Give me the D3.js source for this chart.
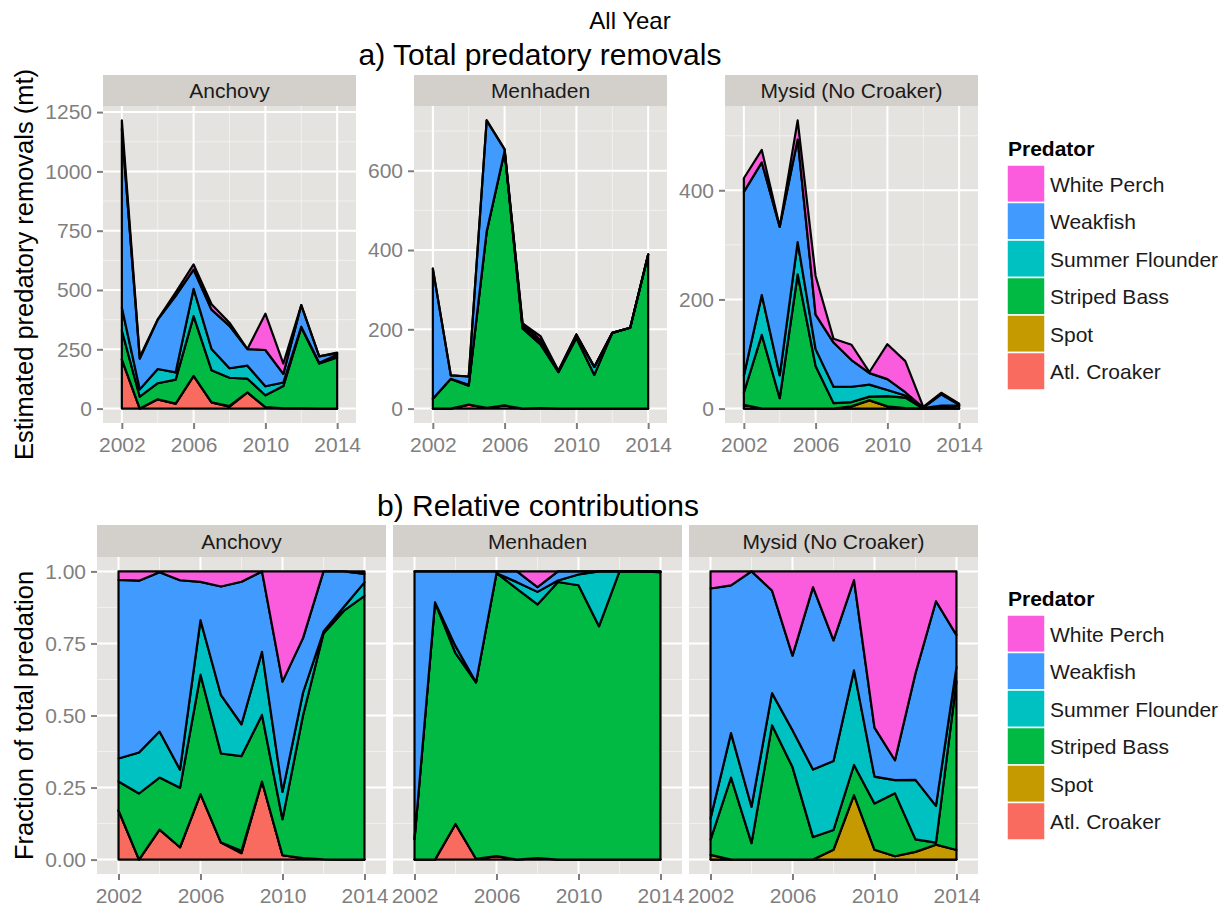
<!DOCTYPE html>
<html>
<head>
<meta charset="utf-8">
<script src="https://cdn.jsdelivr.net/npm/d3@7"></script>
<style>
  body { margin: 0; background: #fff; }
  text { font-family: "Liberation Sans", Arial, sans-serif; }
</style>
</head>
<body>
<svg id="chart" width="1232" height="909"></svg>
<script>
// ---- data (estimated removals, mt) ----
const years = [2002, 2003, 2004, 2005, 2006, 2007, 2008, 2009, 2010, 2011, 2012, 2013, 2014];
const predators = ["Atl. Croaker", "Spot", "Striped Bass", "Summer Flounder", "Weakfish", "White Perch"];
const predatorColors = ["#FA6B5F", "#C49A00", "#00BA43", "#00C1C1", "#419BFF", "#FB5BDD"];
const preyNames = ["Anchovy", "Menhaden", "Mysid (No Croaker)"];

const anchovyCroaker        = [207, 0, 39, 21, 138, 26, 8, 68, 6, 1, 0.5, 0, 0];
const anchovySpot           = [0, 0, 0, 0, 0, 0, 3, 0, 0, 0, 0, 0, 0];
const anchovyStripedBass    = [122, 50, 68, 101, 252, 136, 119, 58, 50, 94, 342, 190, 216];
const anchovySummerFlounder = [97, 31, 60, 31, 115, 89, 40, 55, 38, 15, 3, 3, 11];
const anchovyWeakfish       = [753, 130, 208, 322, 81, 166, 179, 70, 153, 36, 91, 27, 7];
const anchovyWhitePerch     = [36, 7, 1, 15, 22, 23, 13, 0, 153, 44, 0, 0, 2];

const menhadenCroaker        = [0, 0, 10, 2, 8, 0, 1, 0, 0, 0, 0, 0, 0];
const menhadenSpot           = [0, 0, 0, 0, 0, 0, 0, 0, 0, 0, 0, 0, 0];
const menhadenStripedBass    = [25, 75, 48, 445, 642, 202, 161, 92, 178, 85, 191, 204, 388];
const menhadenSummerFlounder = [0, 0, 2, 0, 0, 5, 8, 0.5, 7, 20, 0, 0, 0];
const menhadenWeakfish       = [328, 9, 21, 280, 4, 8, 3, 3, 2, 0, 0, 0, 1];
const menhadenWhitePerch     = [0, 0, 0, 0, 0, 0, 10, 0, 0, 0, 0, 0, 0];

const mysidCroaker        = [0, 0, 0, 0, 0, 0, 0, 0, 0, 0, 0, 0, 0];
const mysidSpot           = [7, 0, 0, 0, 0, 0, 4, 15, 4, 1, 0.08, 1.5, 0.3];
const mysidStripedBass    = [22, 135, 19, 246, 78, 10, 8, 7, 19, 19, 0.13, 0.2, 5.3];
const mysidSummerFlounder = [31, 73, 42, 59, 31, 30, 28, 22, 11, 4, 0.62, 3.7, 0.45];
const mysidWeakfish       = [337, 243, 272, 188, 63, 81, 49, 21, 20, 6, 1.11, 20.6, 1];
const mysidWhitePerch     = [25, 23, 0, 35, 71, 7, 28, 2, 64, 57, 1.06, 3, 2];

const xTicks = [2002, 2006, 2010, 2014];
const yTicksTop = [[0, 250, 500, 750, 1000, 1250], [0, 200, 400, 600], [0, 200, 400]];
const yTicksBottom = [0, 0.25, 0.5, 0.75, 1];

// ---- layout / style ----
const FONT = "'Liberation Sans', Arial, sans-serif";
const panelFill = "#E5E3E0";
const stripFill = "#D3CFCB";
const minorGrid = "#F2F1EF";
const xPad = 1.05;

const preyLayers = [
  [anchovyCroaker, anchovySpot, anchovyStripedBass, anchovySummerFlounder, anchovyWeakfish, anchovyWhitePerch],
  [menhadenCroaker, menhadenSpot, menhadenStripedBass, menhadenSummerFlounder, menhadenWeakfish, menhadenWhitePerch],
  [mysidCroaker, mysidSpot, mysidStripedBass, mysidSummerFlounder, mysidWeakfish, mysidWhitePerch]
];

const svg = d3.select("#chart");
svg.append("rect").attr("width", 1232).attr("height", 909).attr("fill", "#fff");

function rowsFor(layers) {
  return years.map((yr, i) => {
    const row = {year: yr};
    predators.forEach((p, k) => { row[p] = layers[k][i]; });
    return row;
  });
}

function minorTicks(major, domain) {
  const step = major[1] - major[0];
  const out = [];
  for (let v = major[0] - step / 2; v <= domain[1]; v += step) {
    if (v >= domain[0]) out.push(v);
  }
  return out;
}

function drawPanel(cfg) {
  const pw = cfg.width, ph = cfg.height, sh = cfg.stripH;
  const g = svg.append("g").attr("transform", "translate(" + cfg.left + "," + cfg.top + ")");

  g.append("rect").attr("width", pw).attr("height", sh).attr("fill", stripFill);
  g.append("text")
    .attr("x", pw / 2).attr("y", sh / 2 + 7.5)
    .attr("text-anchor", "middle")
    .attr("font-size", 21).attr("fill", "#1a1a1a")
    .text(cfg.label);

  const x = d3.scaleLinear()
    .domain([years[0] - xPad, years[years.length - 1] + xPad])
    .range([0, pw]);
  const y = d3.scaleLinear().domain(cfg.yDomain).range([sh + ph, sh]);

  g.append("rect").attr("y", sh).attr("width", pw).attr("height", ph).attr("fill", panelFill);

  const grid = g.append("g");
  minorTicks(xTicks, x.domain()).forEach(v => {
    grid.append("line").attr("x1", x(v)).attr("x2", x(v)).attr("y1", sh).attr("y2", sh + ph)
      .attr("stroke", minorGrid).attr("stroke-width", 1);
  });
  minorTicks(cfg.yTicks, cfg.yDomain).forEach(v => {
    grid.append("line").attr("x1", 0).attr("x2", pw).attr("y1", y(v)).attr("y2", y(v))
      .attr("stroke", minorGrid).attr("stroke-width", 1);
  });
  xTicks.forEach(v => {
    grid.append("line").attr("x1", x(v)).attr("x2", x(v)).attr("y1", sh).attr("y2", sh + ph)
      .attr("stroke", "#fff").attr("stroke-width", 2);
  });
  cfg.yTicks.forEach(v => {
    grid.append("line").attr("x1", 0).attr("x2", pw).attr("y1", y(v)).attr("y2", y(v))
      .attr("stroke", "#fff").attr("stroke-width", 2);
  });

  const series = d3.stack().keys(predators).offset(cfg.offset)(cfg.rows);
  const area = d3.area()
    .x(d => x(d.data.year))
    .y0(d => y(d[0]))
    .y1(d => y(d[1]));

  g.append("g").selectAll("path")
    .data(series)
    .join("path")
    .attr("d", area)
    .attr("fill", (d, i) => predatorColors[i])
    .attr("stroke", "#000")
    .attr("stroke-width", 2.2)
    .attr("stroke-linejoin", "round");

  const axes = [];
  if (cfg.showY) {
    axes.push(g.append("g")
      .call(d3.axisLeft(y).tickValues(cfg.yTicks).tickFormat(cfg.yFormat).tickSize(6).tickPadding(5)));
  }
  axes.push(g.append("g")
    .attr("transform", "translate(0," + (sh + ph) + ")")
    .call(d3.axisBottom(x).tickValues(xTicks).tickFormat(d3.format("d")).tickSize(6).tickPadding(8)));
  axes.forEach(a => {
    a.attr("font-family", FONT).attr("font-size", 21);
    a.select(".domain").remove();
    a.selectAll(".tick line").attr("stroke", "#7f7f7f").attr("stroke-width", 2);
    a.selectAll(".tick text").attr("fill", "#7f7f7f");
  });
}

// ---- a) totals (free y scales) ----
const topLefts = [103, 414, 725];
preyNames.forEach((name, i) => {
  const rows = rowsFor(preyLayers[i]);
  const maxTotal = d3.max(rows, r => d3.sum(predators, p => r[p]));
  drawPanel({
    left: topLefts[i], top: 75, width: 253, height: 317, stripH: 31,
    label: name, rows: rows, offset: d3.stackOffsetNone,
    yDomain: [-0.05 * maxTotal, 1.05 * maxTotal],
    yTicks: yTicksTop[i], yFormat: d3.format("d"), showY: true
  });
});

// ---- b) fractions (shared y scale) ----
const bottomLefts = [97, 393, 689];
preyNames.forEach((name, i) => {
  drawPanel({
    left: bottomLefts[i], top: 525, width: 289, height: 317, stripH: 32,
    label: name, rows: rowsFor(preyLayers[i]), offset: d3.stackOffsetExpand,
    yDomain: [-0.05, 1.05],
    yTicks: yTicksBottom, yFormat: d3.format(".2f"), showY: i === 0
  });
});

// ---- titles ----
svg.append("text").attr("x", 630).attr("y", 29).attr("text-anchor", "middle")
  .attr("font-size", 24).attr("fill", "#000").text("All Year");
svg.append("text").attr("x", 540).attr("y", 65).attr("text-anchor", "middle")
  .attr("font-size", 30).attr("fill", "#000").text("a) Total predatory removals");
svg.append("text").attr("x", 538).attr("y", 516).attr("text-anchor", "middle")
  .attr("font-size", 30).attr("fill", "#000").text("b) Relative contributions");

svg.append("text").attr("transform", "translate(33,264.5) rotate(-90)").attr("text-anchor", "middle")
  .attr("font-size", 25.5).attr("fill", "#000").text("Estimated predatory removals (mt)");
svg.append("text").attr("transform", "translate(33,715.5) rotate(-90)").attr("text-anchor", "middle")
  .attr("font-size", 25.5).attr("fill", "#000").text("Fraction of total predation");

// ---- legends ----
function drawLegend(top) {
  const lg = svg.append("g").attr("transform", "translate(1007," + top + ")");
  lg.append("text").attr("x", 1).attr("y", 0)
    .attr("font-size", 21).attr("font-weight", "bold").attr("fill", "#000").text("Predator");
  const items = predators.map((p, i) => ({name: p, color: predatorColors[i]})).reverse();
  const row = lg.selectAll("g.key").data(items).join("g")
    .attr("class", "key")
    .attr("transform", (d, i) => "translate(0," + (9 + i * 37.5) + ")");
  row.append("rect").attr("width", 38).attr("height", 37.5)
    .attr("fill", d => d.color).attr("stroke", "#fff").attr("stroke-width", 1.5);
  row.append("text").attr("x", 43).attr("y", 26.5)
    .attr("font-size", 21).attr("fill", "#1a1a1a").text(d => d.name);
}
drawLegend(156);
drawLegend(606);
</script>
</body>
</html>
